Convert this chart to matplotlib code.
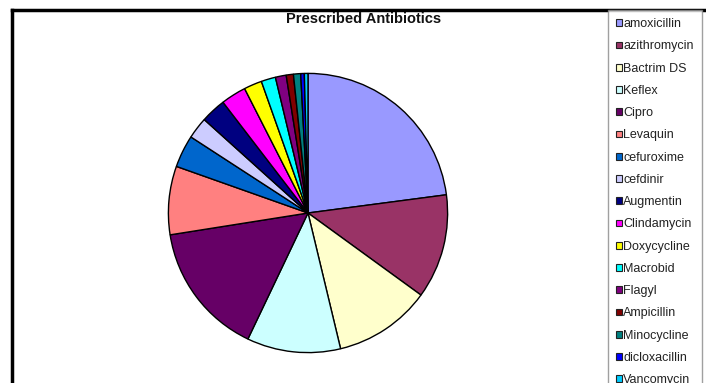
import matplotlib
matplotlib.use("Agg")
import matplotlib.pyplot as plt
from matplotlib.patches import Patch
from matplotlib.lines import Line2D

# 处方抗生素数据（从图中估计的处方数量）
drugs = ["amoxicillin", "azithromycin", "Bactrim DS", "Keflex", "Cipro",
         "Levaquin", "cefuroxime", "cefdinir", "Augmentin", "Clindamycin",
         "Doxycycline", "Macrobid", "Flagyl", "Ampicillin", "Minocycline",
         "dicloxacillin", "Vancomycin"]
counts = [55, 29, 27, 26, 37, 19, 9, 6, 7, 7, 5, 4, 3, 2, 2, 1, 1]
colors = ["#9999FF", "#993366", "#FFFFCC", "#CCFFFF", "#660066",
          "#FF8080", "#0066CC", "#CCCCFF", "#000080", "#FF00FF",
          "#FFFF00", "#00FFFF", "#800080", "#800000", "#008080",
          "#0000FF", "#00CCFF"]

plt.rcParams["font.family"] = ["Liberation Sans", "DejaVu Sans"]

W, H = 706, 383
fig = plt.figure(figsize=(W / 100, H / 100), dpi=100)

# 饼图：圆心约 (308, 213) 像素，半径约 141 像素
cx, cy, r = 308, 213, 141
ax = fig.add_axes([(cx - r) / W, (H - cy - r) / H, 2 * r / W, 2 * r / H])
ax.pie(counts, colors=colors, startangle=90, counterclock=False,
       wedgeprops=dict(edgecolor="black", linewidth=1.0))
ax.set_xlim(-1.01, 1.01)
ax.set_ylim(-1.01, 1.01)
ax.set_aspect("equal")
ax.axis("off")

fig.text(364 / W, 1 - 19 / H, "Prescribed Antibiotics", ha="center", va="center",
         fontsize=10.5, fontweight="bold", color="#111111")

# 图表外框（上边和左边）
fig.add_artist(Line2D([12 / W, 1.0], [1 - 9.5 / H, 1 - 9.5 / H],
                      transform=fig.transFigure, color="black", linewidth=2.5))
fig.add_artist(Line2D([12 / W, 12 / W], [0.0, 1 - 9.5 / H],
                      transform=fig.transFigure, color="black", linewidth=2.5))

# 图例
handles = [Patch(facecolor=c, edgecolor="#222222", linewidth=0.8) for c in colors]
leg = fig.legend(handles, drugs, loc="upper left",
                 bbox_to_anchor=(608 / W, 1 - 10 / H), fontsize=9,
                 frameon=True, fancybox=False, edgecolor="#888888",
                 handlelength=0.45, handleheight=0.45, handletextpad=0.12,
                 labelspacing=0.82, borderpad=0.65, borderaxespad=0)
leg.get_frame().set_linewidth(1.0)
for t in leg.get_texts():
    t.set_color("#222222")

fig.savefig("out.png", dpi=100)
